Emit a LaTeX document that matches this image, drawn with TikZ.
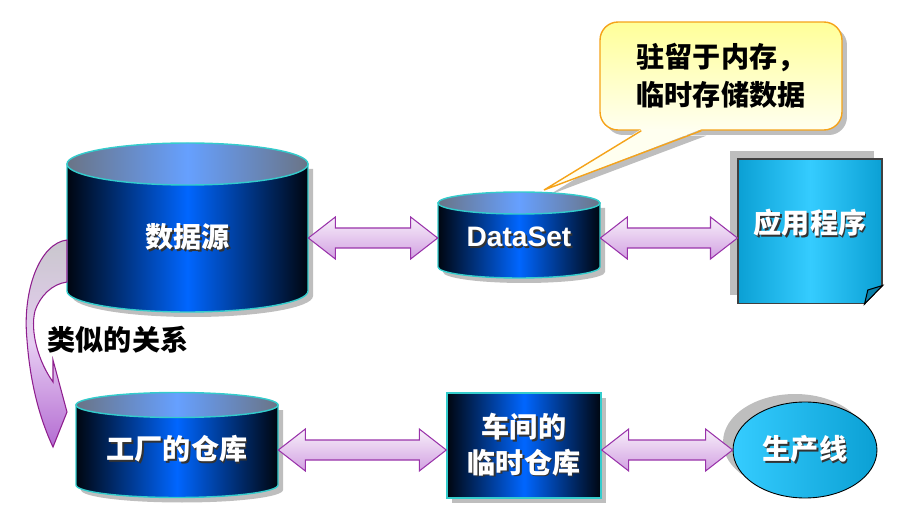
\documentclass[tikz,border=0pt]{standalone}
\usepackage{fontspec}
\setmainfont{Liberation Sans}
\newfontfamily\cjk{Noto Sans CJK SC}
\usetikzlibrary{calc,shapes.geometric,shadows,backgrounds}

\definecolor{cyldark}{HTML}{000610}
\definecolor{cylblue}{HTML}{0066FF}
\definecolor{topgray}{HTML}{6A7486}
\definecolor{topblue}{HTML}{66A0FF}
\definecolor{cyledge}{HTML}{33CCCC}
\definecolor{arrtop}{HTML}{F8F0FA}
\definecolor{arrbot}{HTML}{D2A0E2}
\definecolor{arredge}{HTML}{9933AA}
\definecolor{skyblue}{HTML}{35CCFF}
\definecolor{skydeep}{HTML}{0BA0D4}
\definecolor{memotop}{HTML}{FFFF99}
\definecolor{memobot}{HTML}{FFFFF0}
\definecolor{memoedge}{HTML}{F5A31A}
\definecolor{shadowgray}{HTML}{BEBEBE}
\definecolor{bendgray}{HTML}{C9C7CD}
\definecolor{bendlilac}{HTML}{E6CCF2}
\definecolor{bendpurple}{HTML}{B46CD2}
\definecolor{bendedge}{HTML}{8E1E8E}

\tikzset{
  bigfont/.style={font=\cjk\bfseries\fontsize{16}{19}\selectfont},
  cylbody/.style={left color=cyldark,right color=cyldark,middle color=cylblue,draw=cyledge,line width=0.8pt},
  cyltop/.style={left color=topgray,right color=topgray,middle color=topblue,draw=cyledge,line width=0.8pt},
  cyltext/.style={bigfont,text=white,inner sep=0pt},
  bigarrow/.style={top color=arrtop,bottom color=arrbot,draw=arredge,line width=0.6pt},
  tmpbox/.style={cyltext,align=center,minimum width=3.08cm,minimum height=2.1cm,
    left color=cyldark,right color=cyldark,middle color=cylblue,draw=cyledge,line width=0.8pt,
    font=\cjk\bfseries\fontsize{16}{20}\selectfont,
    drop shadow={shadow xshift=0.1cm,shadow yshift=-0.1cm,fill=shadowgray,opacity=1}},
  appbox/.style={cyltext,minimum width=2.88cm,minimum height=2.89cm,
    left color=skydeep,right color=skydeep,middle color=skyblue,draw=black!75,line width=0.6pt,
    drop shadow={shadow xshift=-0.16cm,shadow yshift=0.16cm,fill=shadowgray,opacity=1}},
  lineell/.style={cyltext,ellipse,minimum width=2.88cm,minimum height=1.92cm,
    left color=skyblue,right color=skydeep,draw=black,line width=0.5pt,
    drop shadow={shadow xshift=-0.2cm,shadow yshift=0.16cm,fill=shadowgray,opacity=1}},
  memo/.style={bigfont,align=center,rounded corners=0.36cm,minimum width=4.84cm,minimum height=2.16cm,
    top color=memotop,bottom color=memobot,draw=memoedge,line width=0.8pt,
    font=\cjk\bfseries\fontsize{16}{21.6}\selectfont,
    drop shadow={shadow xshift=0.1cm,shadow yshift=-0.1cm,fill=shadowgray,opacity=1}},
  bendarrow/.style={top color=bendgray,bottom color=bendpurple,middle color=bendlilac,draw=bendedge,line width=0.6pt}
}

% white text with a dark shadow
\newcommand\shd[1]{\makebox[0pt][l]{\hspace{1pt}\raisebox{-1pt}{\color{black!80}#1}}#1}

% centre x, centre y, x radius, half height, y radius
\newcommand\cylinder[5]{%
  \fill[shadowgray] ({#1-#3+5},{#2+#4-5}) -- ({#1-#3+5},{#2-#4-5})
    arc[start angle=180,end angle=360,x radius=#3,y radius=#5] -- ({#1+#3+5},{#2+#4-5}) -- cycle;
  \shadedraw[cylbody] ({#1-#3},{#2+#4}) -- ({#1-#3},{#2-#4})
    arc[start angle=180,end angle=360,x radius=#3,y radius=#5] -- ({#1+#3},{#2+#4}) -- cycle;
  \shadedraw[cyltop] (#1,{#2+#4}) ellipse[x radius=#3,y radius=#5];
}

% double block arrow between two points at the same height
\newcommand\dblarrow[2]{%
  \shadedraw[bigarrow] (#1) -- ++(27,21) -- ++(0,-11) -- ($(#2)+(-27,10)$) -- ++(0,11) -- (#2)
    -- ++(-27,-21) -- ++(0,11) -- ($(#1)+(27,-10)$) -- ++(0,-11) -- cycle;
}

\begin{document}
\begin{tikzpicture}[x=0.02cm,y=0.02cm]
  \useasboundingbox (0,0) rectangle (913,521);

  % top row
  \cylinder{187.5}{293.5}{120.5}{63.5}{21}
  \node[cyltext,minimum width=4.82cm] (src) at (187.5,283) {\shd{数据源}};
  \cylinder{519}{286}{81}{32}{11}
  \node[cyltext,minimum width=3.24cm,font=\bfseries\fontsize{16}{19}\selectfont] (ds) at (519,283) {\shd{DataSet}};
  \node[appbox] (app) at (810,289.75) {\raisebox{10.8pt}{\shd{应用程序}}};
  \fill[white] ($(app.south east)+(1.5,20)$) -- ($(app.south east)+(1.5,-1.5)$) -- ($(app.south east)+(-20,-1.5)$) -- cycle;
  \draw[black!75,line width=0.6pt] ($(app.south east)+(0,18.5)$) -- ($(app.south east)+(-18,0)$);
  \filldraw[fill=skydeep!80!black,draw=black,line width=0.6pt] ($(app.south east)+(0,18.5)$)
    -- ($(app.south east)+(-14.7,14)$) -- ($(app.south east)+(-18,0)$) -- cycle;

  \coordinate (dsright) at (ds.east -| app.west);
  \dblarrow{src.east}{ds.west}
  \dblarrow{ds.east}{dsright}

  % callout
  \node[memo] (memo) at (721,445) {驻留于内存，\\临时存储数据};
  \coordinate (tip) at (544,331);
  \begin{scope}[on background layer]
    \fill[shadowgray] ($(memo.south west)+(47,-5)$) -- ($(tip)+(5,-5)$) -- ($(memo.south west)+(107,-5)$) -- cycle;
  \end{scope}
  \fill[memobot] ($(memo.south west)+(42,1.5)$) -- (tip) -- ($(memo.south west)+(102,1.5)$) -- cycle;
  \draw[memoedge,line width=0.8pt] ($(memo.south west)+(42,0)$) -- (tip) -- ($(memo.south west)+(102,0)$);

  % bottom row
  \cylinder{177}{76}{101}{40}{12.5}
  \node[cyltext,minimum width=4.04cm] (wh) at (177,71) {\shd{工厂的仓库}};
  \node[tmpbox] (tmp) at (524,75.5) {\shd{车间的}\\\shd{临时仓库}};
  \node[lineell] (line) at (805,71) {\shd{生产线}};

  \coordinate (whright) at (wh.east -| tmp.west);
  \coordinate (tmpright) at (tmp.east |- line.west);
  \dblarrow{wh.east}{whright}
  \dblarrow{tmpright}{line.west}

  % bent arrow
  \shadedraw[bendarrow] (67,281) .. controls (40,278) and (22,231) .. (27,181)
    .. controls (31,126) and (45,91) .. (53,74) -- (67,109) -- (53,161) -- (53,139)
    .. controls (38,160) and (30,190) .. (35,210) .. controls (40,225) and (52,237) .. (67,239) -- cycle;
  \node[bigfont] (simil) at (118,181) {类似的关系};
\end{tikzpicture}
\end{document}
